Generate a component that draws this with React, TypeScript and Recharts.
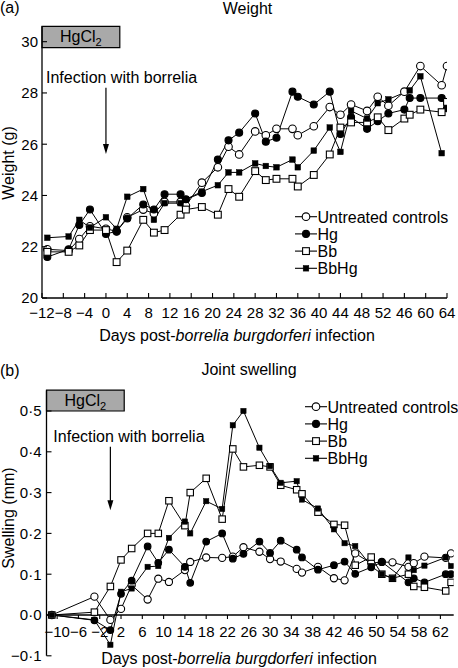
import React from 'react';
import { LineChart, Line, XAxis, YAxis, ReferenceArea, ReferenceLine } from 'recharts';

const FONT = '"Liberation Sans", Arial, Helvetica, sans-serif';

// ---------- (a) Weight ----------
const ctrlDaysA = [-11, -7, -5, -3, 0, 2, 4, 7, 9, 11, 14, 15, 18, 21, 23, 25, 28, 30, 32, 35, 36, 39, 42, 44, 46, 49, 51, 53, 56, 59, 63, 64];
const ctrlWeight = [21.9, 21.85, 22.3, 22.8, 22.7, 22.6, 23.15, 23.45, 23.3, 23.75, 23.75, 23.6, 24.5, 25.1, 25.9, 25.6, 26.5, 26.35, 26.6, 26.6, 26.35, 26.7, 27.45, 27.15, 27.55, 27.3, 27.85, 27.5, 28.05, 29.05, 28.3, 29.05];

const hgDaysA = [-11, -7, -5, -3, 0, 2, 4, 7, 9, 11, 14, 15, 18, 21, 23, 25, 28, 30, 32, 35, 36, 39, 42, 44, 46, 49, 51, 53, 56, 57, 59, 63, 64];
const hgWeight = [21.6, 21.9, 22.85, 23.45, 22.5, 22.6, 23.1, 23.65, 23.45, 24.05, 24.05, 23.85, 24.1, 25.4, 26.15, 26.45, 27.2, 26.1, 26.25, 28.05, 27.85, 27.55, 28.05, 26.4, 27.05, 26.6, 26.9, 27.2, 27.35, 27.8, 27.8, 27.8, 27.4];

const bbDaysA = [-11, -7, -5, -3, 0, 2, 4, 7, 9, 11, 14, 15, 18, 21, 23, 25, 28, 30, 32, 35, 36, 39, 42, 44, 46, 49, 51, 53, 56, 57, 59, 63, 64];
const bbWeight = [21.8, 21.8, 22.05, 22.65, 22.65, 21.4, 21.85, 23.05, 22.55, 22.65, 23.25, 23.45, 23.55, 23.25, 24.25, 23.95, 24.95, 24.6, 24.65, 24.65, 24.35, 24.8, 25.6, 26.65, 26.85, 26.85, 27.05, 26.55, 27.0, 27.15, 27.35, 27.25, 27.65];

const bbhgDaysA = [-11, -7, -5, -3, 0, 2, 4, 7, 9, 11, 14, 15, 18, 21, 23, 25, 28, 30, 32, 35, 36, 39, 42, 44, 46, 49, 51, 53, 57, 59, 63];
const bbhgWeight = [22.35, 22.4, 23.05, 22.75, 23.15, 22.7, 23.95, 24.25, 23.05, 23.7, 23.7, 23.85, 24.15, 24.4, 24.9, 24.9, 25.25, 25.15, 25.1, 25.4, 25.1, 25.75, 26.65, 25.7, 27.3, 27.0, 27.6, 27.75, 28.1, 28.65, 25.65];

const xTicksA = [-12, -8, -4, 0, 4, 8, 12, 16, 20, 24, 28, 32, 36, 40, 44, 48, 52, 56, 60, 64];
const xTickLabelsA = ['\u221212', '\u22128', '\u22124', '0', '4', '8', '12', '16', '20', '24', '28', '32', '36', '40', '44', '48', '52', '46', '60', '64'];
const yTicksA = [20, 22, 24, 26, 28, 30];
const yTickLabelsA = ['20', '22', '24', '26', '28', '30'];

// ---------- (b) Joint swelling ----------
const ctrlDaysB = [-11, -3, 0, 2, 4, 7, 9, 11, 14, 15, 18, 21, 23, 25, 28, 30, 32, 35, 36, 39, 42, 44, 46, 49, 51, 53, 56, 57, 59, 63, 64];
const ctrlSwell = [0, 0.045, -0.012, 0.015, 0.073, 0.038, 0.089, 0.081, 0.11, 0.13, 0.141, 0.14, 0.143, 0.166, 0.155, 0.137, 0.131, 0.113, 0.104, 0.118, 0.09, 0.085, 0.151, 0.127, 0.13, 0.129, 0.118, 0.127, 0.143, 0.14, 0.151];

const hgDaysB = [-11, -3, 0, 2, 4, 7, 9, 11, 14, 15, 18, 21, 23, 25, 28, 30, 32, 35, 36, 39, 42, 44, 46, 49, 51, 56, 57, 59, 63, 64];
const hgSwell = [0, -0.013, -0.037, 0.052, 0.084, 0.168, 0.128, 0.16, 0.118, 0.079, 0.18, 0.2, 0.138, 0.15, 0.18, 0.152, 0.182, 0.16, 0.141, 0.111, 0.122, 0.131, 0.101, 0.117, 0.13, 0.08, 0.09, 0.08, 0.1, 0.1];

const bbDaysB = [-11, -3, 0, 2, 4, 7, 9, 11, 14, 15, 18, 21, 23, 25, 28, 30, 32, 35, 36, 39, 42, 44, 46, 49, 51, 53, 56, 57, 59, 63, 64];
const bbSwell = [0, 0.007, 0.07, 0.135, 0.163, 0.2, 0.2, 0.28, 0.219, 0.3, 0.335, 0.235, 0.407, 0.363, 0.367, 0.363, 0.318, 0.307, 0.297, 0.252, 0.222, 0.22, 0.122, 0.142, 0.1, 0.09, 0.1, 0.07, 0.068, 0.059, 0.08];

const bbhgDaysB = [-11, -3, 0, 2, 4, 7, 9, 11, 14, 15, 18, 21, 23, 25, 28, 30, 32, 35, 36, 39, 42, 44, 46, 49, 51, 53, 56, 57, 59, 63, 64];
const bbhgSwell = [0, -0.012, -0.073, 0.057, 0.065, 0.118, 0.12, 0.189, 0.229, 0.2, 0.279, 0.26, 0.465, 0.5, 0.41, 0.365, 0.324, 0.328, 0.283, 0.261, 0.21, 0.176, 0.169, 0.12, 0.1, 0.09, 0.141, 0.11, 0.121, 0.141, 0.12];

const xTicksB = [-10, -6, -2, 2, 6, 10, 14, 18, 22, 26, 30, 34, 38, 42, 46, 50, 54, 58, 62];
const xTickLabelsB = ['\u221210', '\u22126', '\u22122', '2', '6', '10', '14', '18', '22', '26', '30', '34', '38', '42', '46', '50', '54', '58', '62'];
const yTicksB = [-0.1, 0, 0.1, 0.2, 0.3, 0.4, 0.5];
const yTickLabelsB = ['\u22120\u00b71', '0\u00b70', '0\u00b71', '0\u00b72', '0\u00b73', '0\u00b74', '0\u00b75'];

const seriesNames = ['Untreated controls', 'Hg', 'Bb', 'BbHg'];
const markerKinds = ['openCircle', 'filledCircle', 'openSquare', 'filledSquare'];

const zip = (days: number[], vals: number[]) => days.map((d, i) => ({ day: d, v: vals[i] }));

const seriesA = [zip(ctrlDaysA, ctrlWeight), zip(hgDaysA, hgWeight), zip(bbDaysA, bbWeight), zip(bbhgDaysA, bbhgWeight)];
const seriesB = [zip(ctrlDaysB, ctrlSwell), zip(hgDaysB, hgSwell), zip(bbDaysB, bbSwell), zip(bbhgDaysB, bbhgSwell)];

function drawMarker(kind: string, cx: number, cy: number, scale: number, key?: any) {
  const sw = 1.1;
  if (kind === 'openCircle') return <circle key={key} cx={cx} cy={cy} r={3.8 * scale} fill="#fff" stroke="#000" strokeWidth={sw} />;
  if (kind === 'filledCircle') return <circle key={key} cx={cx} cy={cy} r={3.5 * scale} fill="#000" stroke="#000" strokeWidth={sw} />;
  if (kind === 'openSquare') {
    const s = 6.8 * scale;
    return <rect key={key} x={cx - s / 2} y={cy - s / 2} width={s} height={s} fill="#fff" stroke="#000" strokeWidth={sw} />;
  }
  const s = 5.6 * scale;
  return <rect key={key} x={cx - s / 2} y={cy - s / 2} width={s} height={s} fill="#000" stroke="#000" strokeWidth={0.5} />;
}

const makeDot = (kind: string, scale: number) => (p: any) => {
  if (p.cx == null || p.cy == null) return <g key={`d-${p.index}`} />;
  return drawMarker(kind, p.cx, p.cy, scale, `d-${p.index}`);
};

const HgLabel = (props: any) => {
  const vb = props.viewBox || {};
  const cx = vb.x + vb.width / 2;
  const cy = vb.y + vb.height / 2;
  return (
    <text x={cx} y={cy + 5.5} textAnchor="middle" fontSize={16} fontFamily={FONT} fill="#000">
      HgCl<tspan fontSize={11} dy={4}>2</tspan>
    </text>
  );
};

const makeArrow = (textShift: number) => (p: any) => {
  const { x1, y1, x2, y2 } = p;
  return (
    <g>
      <text x={x1 - textShift} y={y1 - 5} fontSize={16} fontFamily={FONT} fill="#000">Infection with borrelia</text>
      <line x1={x1} y1={y1} x2={x2} y2={y2 - 8} stroke="#000" strokeWidth={1.2} />
      <polygon points={`${x2 - 3},${y2 - 10} ${x2 + 3},${y2 - 10} ${x2},${y2}`} fill="#000" />
    </g>
  );
};

// Chart (a) geometry
const A_W = 458, A_H = 328;
const A_MARGIN = { top: 26.3, right: 11, bottom: 0, left: 0 };
const A_XAXIS_H = 30;
const A_YAXIS_W = 42;

// Chart (b) geometry
const B_TOP = 330;
const B_W = 458, B_H = 338;
const B_MARGIN = { top: 60.6, right: 4.3, bottom: 0, left: 0 };
const B_XAXIS_H = 12.2;
const B_YAXIS_W = 46.5;
const B_YDOMAIN: [number, number] = [-0.1, 0.55];
const B_PLOT_H = B_H - B_MARGIN.top - B_XAXIS_H;
const B_ZERO_SHIFT = (B_PLOT_H * (0 - B_YDOMAIN[0])) / (B_YDOMAIN[1] - B_YDOMAIN[0]);

const TopXTick = (p: any) => {
  const lab = xTickLabelsA[p.index];
  return (
    <g>
      <line x1={p.x} x2={p.x} y1={p.y} y2={p.y - 5} stroke="#000" strokeWidth={1.1} />
      <text x={p.x} y={p.y + 19.5} textAnchor="middle" fontSize={15} fontFamily={FONT} fill="#000">{lab}</text>
    </g>
  );
};
const TopYTick = (p: any) => {
  const lab = yTickLabelsA[p.index];
  return (
    <g>
      <line x1={p.x} x2={p.x + 5} y1={p.y} y2={p.y} stroke="#000" strokeWidth={1.1} />
      <text x={p.x - 4} y={p.y + 5.3} textAnchor="end" fontSize={15} fontFamily={FONT} fill="#000">{lab}</text>
    </g>
  );
};
const BotXTick = (p: any) => {
  const lab = xTickLabelsB[p.index];
  const y0 = p.y - B_ZERO_SHIFT;
  return (
    <g>
      <line x1={p.x} x2={p.x} y1={y0} y2={y0 + 4} stroke="#000" strokeWidth={1.1} />
      <text x={p.x} y={y0 + 22} textAnchor="middle" fontSize={15} fontFamily={FONT} fill="#000">{lab}</text>
    </g>
  );
};
const BotYTick = (p: any) => {
  const lab = yTickLabelsB[p.index];
  return (
    <g>
      <line x1={p.x} x2={p.x + 5} y1={p.y} y2={p.y} stroke="#000" strokeWidth={1.1} />
      <text x={p.x - 5} y={p.y + 5.3} textAnchor="end" fontSize={15} fontFamily={FONT} fill="#000">{lab}</text>
    </g>
  );
};

const LegendBlock = ({ x, y }: { x: number; y: number }) => (
  <g>
    {seriesNames.map((name, i) => {
      const cy = y + i * 17.2;
      return (
        <g key={name}>
          <line x1={x} x2={x + 22} y1={cy} y2={cy} stroke="#000" strokeWidth={1.1} />
          {drawMarker(markerKinds[i], x + 11, cy, 1)}
          <text x={x + 22.5} y={cy + 5.8} fontSize={16} fontFamily={FONT} fill="#000">{name}</text>
        </g>
      );
    })}
  </g>
);

export default function App() {
  return (
    <div style={{ position: 'absolute', left: 0, top: 0, width: 458, height: 668, background: '#fff', fontFamily: FONT }}>
      <div style={{ position: 'absolute', left: 0, top: 0 }}>
        <LineChart width={A_W} height={A_H} margin={A_MARGIN}>
          <XAxis
            type="number"
            dataKey="day"
            domain={[-12, 64]}
            ticks={xTicksA}
            interval={0}
            allowDataOverflow
            height={A_XAXIS_H}
            axisLine={{ stroke: '#000', strokeWidth: 1.3 }}
            tickLine={false}
            tickSize={0}
            tickMargin={0}
            tick={TopXTick}
          />
          <YAxis
            type="number"
            domain={[20, 30.6]}
            ticks={yTicksA}
            interval={0}
            allowDataOverflow
            width={A_YAXIS_W}
            axisLine={{ stroke: '#000', strokeWidth: 1.3 }}
            tickLine={false}
            tickSize={0}
            tickMargin={0}
            tick={TopYTick}
          />
          <ReferenceArea x1={-12} x2={2.6} y1={29.77} y2={30.6} fill="#a9a9a9" fillOpacity={1} stroke="#000" strokeWidth={1.2} label={<HgLabel />} ifOverflow="visible" />
          <ReferenceLine segment={[{ x: 0, y: 28.2 }, { x: 0, y: 25.62 }]} shape={makeArrow(60)} ifOverflow="visible" />
          {seriesA.map((data, i) => (
            <Line
              key={seriesNames[i]}
              data={data}
              dataKey="v"
              type="linear"
              stroke="#000"
              strokeWidth={1}
              dot={makeDot(markerKinds[i], 1)}
              isAnimationActive={false}
              connectNulls
            />
          ))}
        </LineChart>
      </div>

      <div style={{ position: 'absolute', left: 0, top: B_TOP }}>
        <LineChart width={B_W} height={B_H} margin={B_MARGIN}>
          <XAxis
            type="number"
            dataKey="day"
            domain={[-12, 64.5]}
            ticks={xTicksB}
            interval={0}
            allowDataOverflow
            height={B_XAXIS_H}
            axisLine={false}
            tickLine={false}
            tickSize={0}
            tickMargin={0}
            tick={BotXTick}
          />
          <YAxis
            type="number"
            domain={B_YDOMAIN}
            ticks={yTicksB}
            interval={0}
            allowDataOverflow
            width={B_YAXIS_W}
            axisLine={{ stroke: '#000', strokeWidth: 1.3 }}
            tickLine={false}
            tickSize={0}
            tickMargin={0}
            tick={BotYTick}
          />
          <ReferenceLine y={0} stroke="#000" strokeWidth={1.3} />
          <ReferenceArea x1={-12} x2={2.6} y1={0.5} y2={0.551} fill="#a9a9a9" fillOpacity={1} stroke="#000" strokeWidth={1.2} label={<HgLabel />} ifOverflow="visible" />
          <ReferenceLine segment={[{ x: 0, y: 0.4125 }, { x: 0, y: 0.257 }]} shape={makeArrow(57)} ifOverflow="visible" />
          {seriesB.map((data, i) => (
            <Line
              key={seriesNames[i]}
              data={data}
              dataKey="v"
              type="linear"
              stroke="#000"
              strokeWidth={1}
              dot={makeDot(markerKinds[i], 0.95)}
              isAnimationActive={false}
              connectNulls
            />
          ))}
        </LineChart>
      </div>

      <svg width={458} height={668} style={{ position: 'absolute', left: 0, top: 0, pointerEvents: 'none' }}>
        <g fontFamily={FONT} fill="#000">
          <text x={0} y={12.5} fontSize={16}>(a)</text>
          <text x={247.5} y={13.5} fontSize={16} textAnchor="middle">Weight</text>
          <text transform="translate(14,163) rotate(-90)" fontSize={16} textAnchor="middle">Weight (g)</text>
          <text x={237} y={341} fontSize={16} textAnchor="middle">
            Days post-<tspan fontStyle="italic">borrelia burgdorferi</tspan> infection
          </text>
          <text x={0} y={375.5} fontSize={16}>(b)</text>
          <text x={249} y={374.5} fontSize={16} textAnchor="middle">Joint swelling</text>
          <text transform="translate(14,518) rotate(-90)" fontSize={16} textAnchor="middle">Swelling (mm)</text>
          <text x={239} y={664} fontSize={16} textAnchor="middle">
            Days post-<tspan fontStyle="italic">borrelia burgdorferi</tspan> infection
          </text>
        </g>
        <LegendBlock x={295} y={216.7} />
        <LegendBlock x={305} y={406.7} />
      </svg>
    </div>
  );
}
